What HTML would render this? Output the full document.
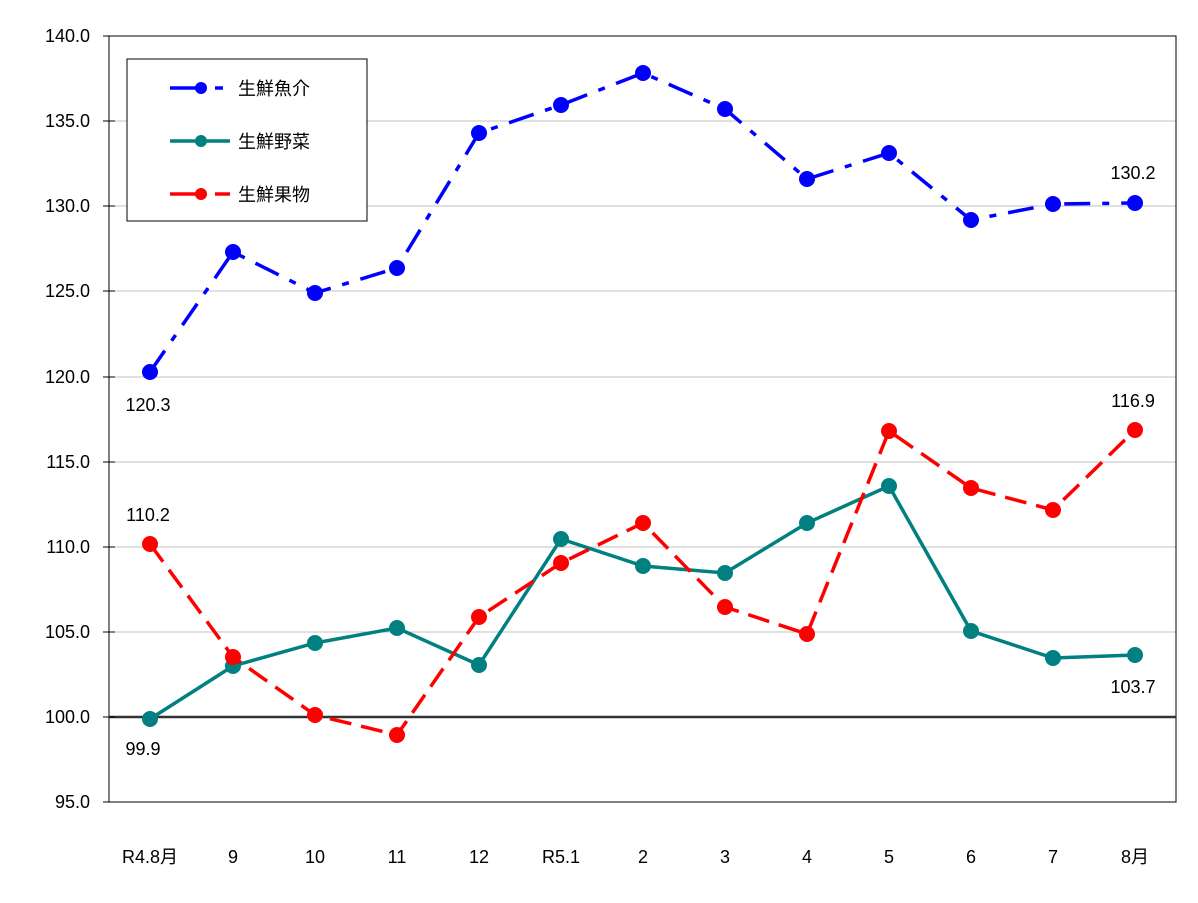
<!DOCTYPE html><html><head><meta charset="utf-8"><style>body{margin:0;background:#fff}svg{display:block}text{font-family:"Liberation Sans","Noto Sans CJK JP",sans-serif;font-size:18px;fill:#000}</style></head><body>
<svg width="1198" height="903" xmlns="http://www.w3.org/2000/svg">
<g stroke="#c0c0c0" stroke-width="1">
<line x1="109" y1="121" x2="1176" y2="121"/><line x1="109" y1="206" x2="1176" y2="206"/><line x1="109" y1="291" x2="1176" y2="291"/><line x1="109" y1="377" x2="1176" y2="377"/><line x1="109" y1="462" x2="1176" y2="462"/><line x1="109" y1="547" x2="1176" y2="547"/><line x1="109" y1="632" x2="1176" y2="632"/>
</g>
<rect x="109" y="36" width="1067" height="766" fill="none" stroke="#000" stroke-width="1"/>
<line x1="109" y1="717" x2="1176" y2="717" stroke="#333" stroke-width="2.5"/>
<g stroke="#000"><line x1="103" y1="36" x2="115" y2="36"/><line x1="103" y1="121" x2="115" y2="121"/><line x1="103" y1="206" x2="115" y2="206"/><line x1="103" y1="291" x2="115" y2="291"/><line x1="103" y1="377" x2="115" y2="377"/><line x1="103" y1="462" x2="115" y2="462"/><line x1="103" y1="547" x2="115" y2="547"/><line x1="103" y1="632" x2="115" y2="632"/><line x1="103" y1="717" x2="115" y2="717"/><line x1="103" y1="802" x2="115" y2="802"/></g>
<g text-anchor="end"><text x="90" y="42">140.0</text><text x="90" y="127">135.0</text><text x="90" y="212">130.0</text><text x="90" y="297">125.0</text><text x="90" y="383">120.0</text><text x="90" y="468">115.0</text><text x="90" y="553">110.0</text><text x="90" y="638">105.0</text><text x="90" y="723">100.0</text><text x="90" y="808">95.0</text></g>
<g text-anchor="middle"><text x="150" y="863">R4.8月</text><text x="233" y="863">9</text><text x="315" y="863">10</text><text x="397" y="863">11</text><text x="479" y="863">12</text><text x="561" y="863">R5.1</text><text x="643" y="863">2</text><text x="725" y="863">3</text><text x="807" y="863">4</text><text x="889" y="863">5</text><text x="971" y="863">6</text><text x="1053" y="863">7</text><text x="1135" y="863">8月</text></g>
<polyline fill="none" stroke="#008080" stroke-width="3.5" points="150,719 233,666 315,643 397,628 479,665 561,539 643,566 725,573 807,523 889,486 971,631 1053,658 1135,655"/>
<g fill="#008080"><circle cx="150" cy="719" r="8"/><circle cx="233" cy="666" r="8"/><circle cx="315" cy="643" r="8"/><circle cx="397" cy="628" r="8"/><circle cx="479" cy="665" r="8"/><circle cx="561" cy="539" r="8"/><circle cx="643" cy="566" r="8"/><circle cx="725" cy="573" r="8"/><circle cx="807" cy="523" r="8"/><circle cx="889" cy="486" r="8"/><circle cx="971" cy="631" r="8"/><circle cx="1053" cy="658" r="8"/><circle cx="1135" cy="655" r="8"/></g>
<polyline fill="none" stroke="#ff0000" stroke-width="3.5" stroke-dasharray="22,10" points="150,544 233,657 315,715 397,735 479,617 561,563 643,523 725,607 807,634 889,431 971,488 1053,510 1135,430"/>
<g fill="#ff0000"><circle cx="150" cy="544" r="8"/><circle cx="233" cy="657" r="8"/><circle cx="315" cy="715" r="8"/><circle cx="397" cy="735" r="8"/><circle cx="479" cy="617" r="8"/><circle cx="561" cy="563" r="8"/><circle cx="643" cy="523" r="8"/><circle cx="725" cy="607" r="8"/><circle cx="807" cy="634" r="8"/><circle cx="889" cy="431" r="8"/><circle cx="971" cy="488" r="8"/><circle cx="1053" cy="510" r="8"/><circle cx="1135" cy="430" r="8"/></g>
<polyline fill="none" stroke="#0000ff" stroke-width="3.5" stroke-dasharray="26,12,7,12" points="150,372 233,252 315,293 397,268 479,133 561,105 643,73 725,109 807,179 889,153 971,220 1053,204 1135,203"/>
<g fill="#0000ff"><circle cx="150" cy="372" r="8"/><circle cx="233" cy="252" r="8"/><circle cx="315" cy="293" r="8"/><circle cx="397" cy="268" r="8"/><circle cx="479" cy="133" r="8"/><circle cx="561" cy="105" r="8"/><circle cx="643" cy="73" r="8"/><circle cx="725" cy="109" r="8"/><circle cx="807" cy="179" r="8"/><circle cx="889" cy="153" r="8"/><circle cx="971" cy="220" r="8"/><circle cx="1053" cy="204" r="8"/><circle cx="1135" cy="203" r="8"/></g>
<g text-anchor="middle"><text x="148" y="411">120.3</text><text x="1133" y="179">130.2</text><text x="148" y="521">110.2</text><text x="1133" y="407">116.9</text><text x="143" y="755">99.9</text><text x="1133" y="693">103.7</text></g>
<rect x="127" y="59" width="240" height="162" fill="#fff" stroke="#000" stroke-width="1"/>
<line x1="170" y1="88" x2="202" y2="88" stroke="#0000ff" stroke-width="3.5"/><line x1="215" y1="88" x2="223" y2="88" stroke="#0000ff" stroke-width="3.5"/><circle cx="201" cy="88" r="6" fill="#0000ff"/>
<line x1="170" y1="141" x2="230" y2="141" stroke="#008080" stroke-width="3.5"/><circle cx="201" cy="141" r="6" fill="#008080"/>
<line x1="170" y1="194" x2="202" y2="194" stroke="#ff0000" stroke-width="3.5"/><line x1="215" y1="194" x2="230" y2="194" stroke="#ff0000" stroke-width="3.5"/><circle cx="201" cy="194" r="6" fill="#ff0000"/>
<text x="238" y="95">生鮮魚介</text><text x="238" y="148">生鮮野菜</text><text x="238" y="201">生鮮果物</text>
</svg></body></html>
